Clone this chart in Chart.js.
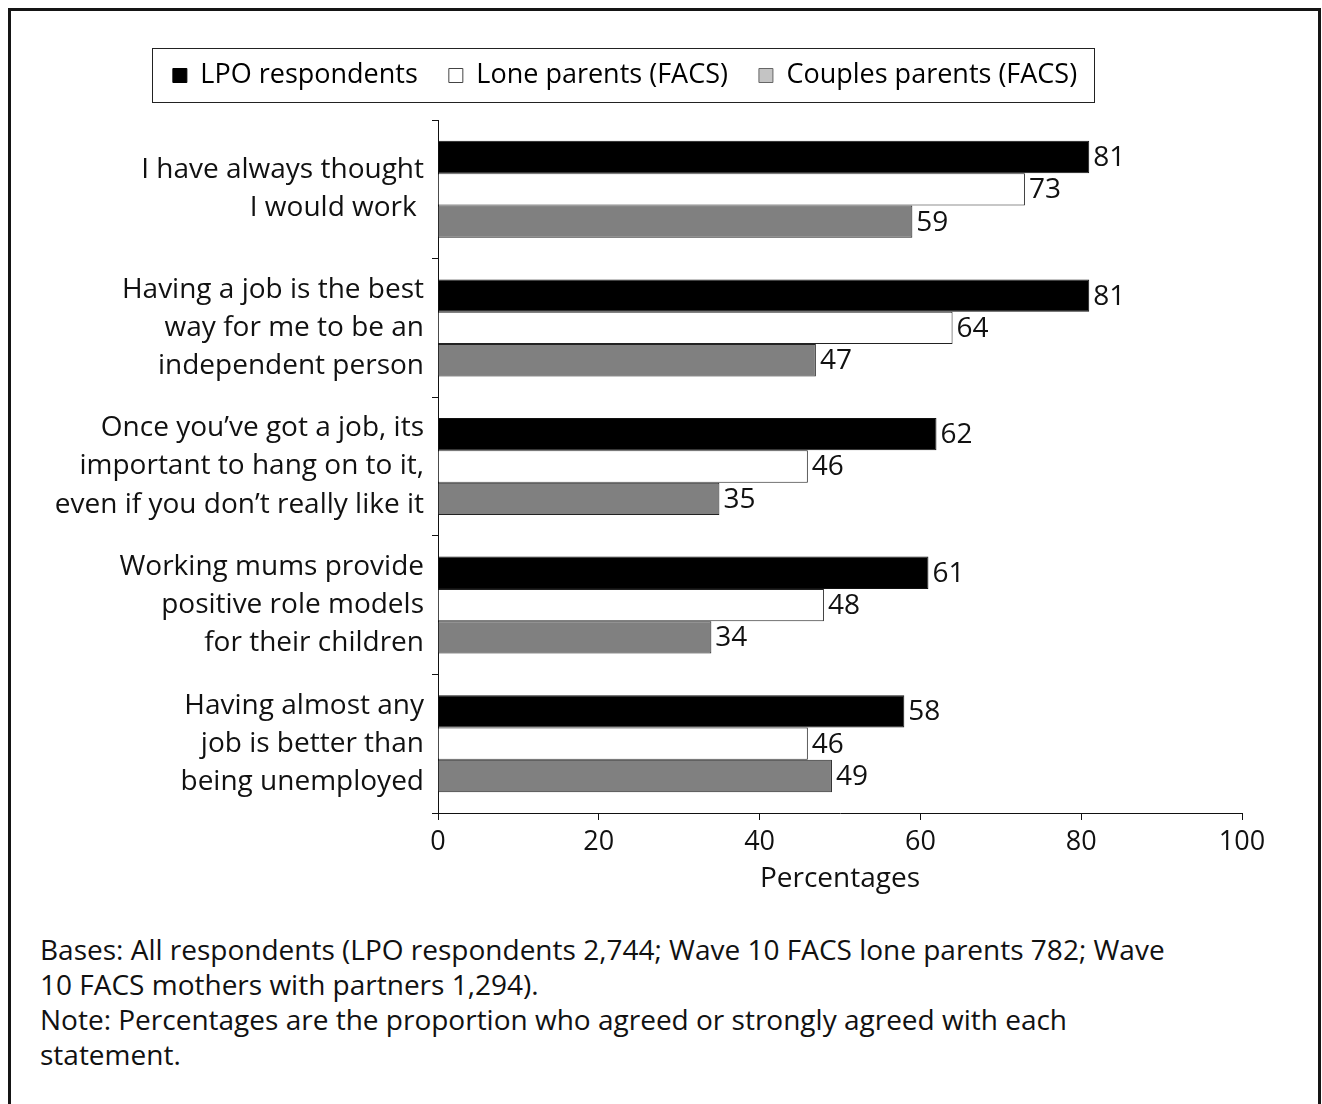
<!DOCTYPE html>
<html>
<head>
<meta charset="utf-8">
<script src="https://cdn.jsdelivr.net/npm/chart.js@4.4.1/dist/chart.umd.min.js"></script>
<style>
  html, body { margin: 0; padding: 0; background: #fff; }
  body { width: 1322px; height: 1104px; position: relative; overflow: hidden; font-family: "Open Sans", sans-serif; }
  #frame { position: absolute; left: 8px; top: 8px; width: 1313px; height: 1120px; border: 3px solid #151515; box-sizing: border-box; }
  #wrap { position: absolute; left: 0; top: 0; width: 1322px; height: 910px; }
  .note { position: absolute; left: 40px; top: 932px; margin: 0; font-size: 28px; line-height: 35px; color: #111; }
</style>
</head>
<body>
<div id="frame"></div>
<div id="wrap"><canvas id="chart" width="1322" height="910"></canvas></div>
<p class="note">Bases: All respondents (LPO respondents 2,744; Wave 10 FACS lone parents 782; Wave<br>10 FACS mothers with partners 1,294).<br>Note: Percentages are the proportion who agreed or strongly agreed with each<br>statement.</p>
<script>
// Statements (multi-line labels)
const categories = [
  ["I have always thought", "I would work "],
  ["Having a job is the best", "way for me to be an", "independent person"],
  ["Once you\u2019ve got a job, its", "important to hang on to it,", "even if you don\u2019t really like it"],
  ["Working mums provide", "positive role models", "for their children"],
  ["Having almost any", "job is better than", "being unemployed"]
];
// Percentage agreeing, per group
const lpoRespondents = [81, 81, 62, 61, 58];
const loneParents = [73, 64, 46, 48, 46];
const coupleParents = [59, 47, 35, 34, 49];
const seriesNames = ["LPO respondents", "Lone parents (FACS)", "Couples parents (FACS)"];
const xTicks = [0, 20, 40, 60, 80, 100];

const FONT = "'Open Sans', sans-serif";
Chart.defaults.font.family = FONT;
Chart.defaults.color = "#111";

// Value labels at the end of each bar
const valueLabels = {
  id: "valueLabels",
  afterDatasetsDraw(chart) {
    const ctx = chart.ctx;
    ctx.save();
    ctx.font = "28px " + FONT;
    ctx.fillStyle = "#111";
    ctx.textAlign = "left";
    ctx.textBaseline = "middle";
    chart.data.datasets.forEach((ds, i) => {
      chart.getDatasetMeta(i).data.forEach((bar, j) => {
        ctx.fillText(String(ds.data[j]), bar.x + 4, bar.y + 1);
      });
    });
    ctx.restore();
  }
};

// Extra room below the legend and a frame around its items
const legendFrame = {
  id: "legendFrame",
  beforeInit(chart) {
    const fit = chart.legend.fit;
    chart.legend.fit = function () {
      fit.call(chart.legend);
      this.height += 21;
    };
  },
  afterDraw(chart) {
    const boxes = chart.legend.legendHitBoxes;
    if (!boxes || !boxes.length) return;
    const left = Math.min(...boxes.map(b => b.left)) - 21;
    const right = Math.max(...boxes.map(b => b.left + b.width)) + 17;
    const top = boxes[0].top - 14;
    const h = boxes[0].height + 27;
    const ctx = chart.ctx;
    ctx.save();
    ctx.strokeStyle = "#222";
    ctx.lineWidth = 1;
    ctx.strokeRect(Math.round(left) + 0.5, Math.round(top) + 0.5, Math.round(right - left), Math.round(h));
    ctx.restore();
  }
};

const legendSwatch = ["#000000", "#ffffff", "#c4c4c4"];
const legendEdge = ["#000000", "#444444", "#666666"];

new Chart(document.getElementById("chart"), {
  type: "bar",
  data: {
    labels: categories,
    datasets: [
      { label: seriesNames[0], data: lpoRespondents, backgroundColor: "#000000", borderColor: "#111111" },
      { label: seriesNames[1], data: loneParents, backgroundColor: "#ffffff", borderColor: "#222222" },
      { label: seriesNames[2], data: coupleParents, backgroundColor: "#808080", borderColor: "#222222" }
    ]
  },
  options: {
    indexAxis: "y",
    responsive: false,
    animation: false,
    devicePixelRatio: 1,
    datasets: {
      bar: { borderWidth: 1, categoryPercentage: 0.7, barPercentage: 1.0 }
    },
    layout: { padding: { top: 31, left: 8, right: 80, bottom: 14 } },
    plugins: {
      tooltip: { enabled: false },
      legend: {
        position: "top",
        labels: {
          font: { size: 27 },
          color: "#111",
          boxWidth: 14,
          boxHeight: 14,
          padding: 31,
          generateLabels(chart) {
            return chart.data.datasets.map((ds, i) => ({
              text: ds.label,
              fillStyle: legendSwatch[i],
              strokeStyle: legendEdge[i],
              lineWidth: 1,
              hidden: false,
              datasetIndex: i
            }));
          }
        }
      }
    },
    scales: {
      x: {
        type: "linear",
        min: 0,
        max: 100,
        afterBuildTicks(scale) { scale.ticks = xTicks.map(v => ({ value: v })); },
        afterFit(scale) { scale.height = 83; },
        border: { color: "#111", width: 1 },
        grid: { drawOnChartArea: false, drawTicks: true, tickLength: 7, color: "#111" },
        ticks: { font: { size: 27 }, color: "#111", padding: 6 },
        title: { display: true, text: "Percentages", font: { size: 28 }, color: "#111", padding: { top: 0, bottom: 0 } }
      },
      y: {
        type: "category",
        offset: true,
        afterFit(scale) { scale.width = 430; },
        border: { color: "#111", width: 1 },
        grid: { offset: true, drawOnChartArea: false, drawTicks: true, tickLength: 6, color: "#111" },
        ticks: { font: { size: 28, lineHeight: 1.36 }, color: "#111", padding: 8, autoSkip: false }
      }
    }
  },
  plugins: [valueLabels, legendFrame]
});
</script>
</body>
</html>
